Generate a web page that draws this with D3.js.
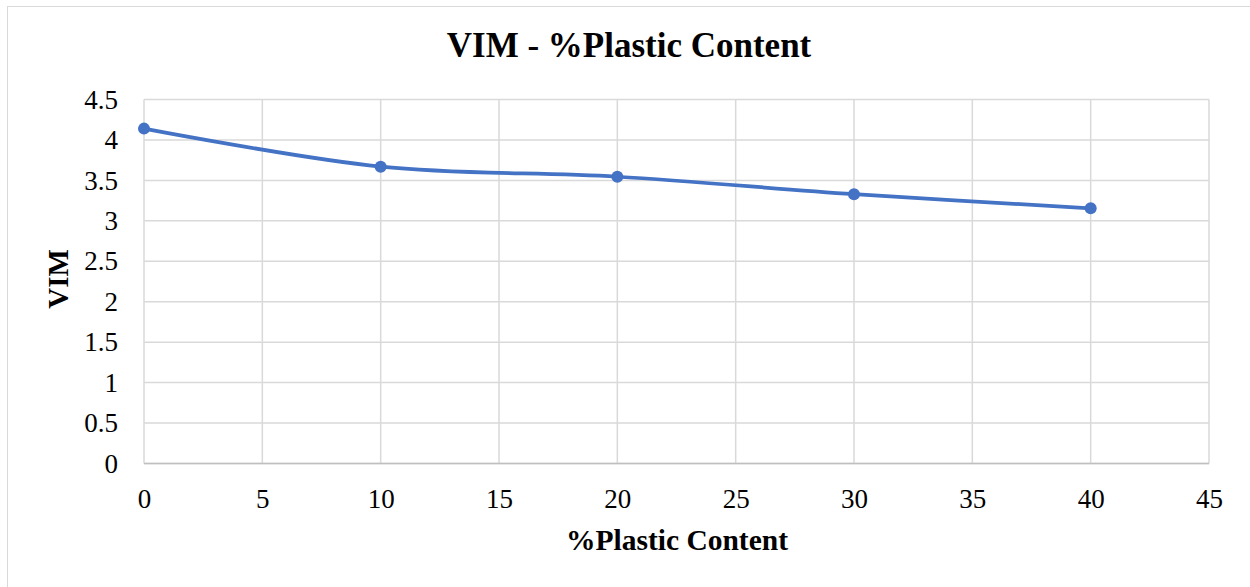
<!DOCTYPE html>
<html>
<head>
<meta charset="utf-8">
<script src="https://cdn.jsdelivr.net/npm/d3@7"></script>
<style>
  html, body { margin: 0; padding: 0; background: #fff; }
  svg { display: block; }
</style>
</head>
<body>
<svg id="chart" width="1250" height="587"></svg>
<script>
// VIM measured at each plastic content level
const plasticContent = [0, 10, 20, 30, 40];
const vimValues = [4.14, 3.67, 3.545, 3.33, 3.155];
const xTicks = [0, 5, 10, 15, 20, 25, 30, 35, 40, 45];
const yTicks = [0, 0.5, 1, 1.5, 2, 2.5, 3, 3.5, 4, 4.5];

const chartTitle = "VIM - %Plastic Content";
const xTitle = "%Plastic Content";
const yTitle = "VIM";

const svg = d3.select("#chart");
const serif = '"Liberation Serif", "Times New Roman", Tinos, serif';
const plot = { left: 144, right: 1209, top: 99.5, bottom: 463.5 };

// outer chart frame
svg.append("rect")
  .attr("x", 7.5).attr("y", 6.5)
  .attr("width", 1260).attr("height", 600)
  .attr("fill", "#fff").attr("stroke", "#d9d9d9").attr("stroke-width", 1);

const x = d3.scaleLinear().domain([0, 45]).range([plot.left, plot.right]);
const y = d3.scaleLinear().domain([0, 4.5]).range([plot.bottom, plot.top]);

// gridlines
svg.append("g")
  .selectAll("line")
  .data(xTicks)
  .join("line")
  .attr("x1", d => x(d)).attr("x2", d => x(d))
  .attr("y1", plot.top).attr("y2", plot.bottom)
  .attr("stroke", "#d9d9d9").attr("stroke-width", 1.5);

svg.append("g")
  .selectAll("line")
  .data(yTicks)
  .join("line")
  .attr("x1", plot.left).attr("x2", plot.right)
  .attr("y1", d => y(d)).attr("y2", d => y(d))
  .attr("stroke", "#d9d9d9").attr("stroke-width", 1.5);

// axes (labels only; the grid supplies the lines)
const xAxis = svg.append("g")
  .attr("transform", `translate(0,${plot.bottom})`)
  .call(d3.axisBottom(x).tickValues(xTicks).tickSize(0).tickPadding(25).tickFormat(d3.format("")));
xAxis.select(".domain").remove();
xAxis.selectAll("text")
  .style("font-family", serif).style("font-size", "27px").attr("fill", "#000");

const yAxis = svg.append("g")
  .attr("transform", `translate(${plot.left},0)`)
  .call(d3.axisLeft(y).tickValues(yTicks).tickSize(0).tickPadding(26).tickFormat(d3.format("")));
yAxis.select(".domain").remove();
yAxis.selectAll("text")
  .style("font-family", serif).style("font-size", "27px").attr("fill", "#000");

// bottom axis line drawn over grid
svg.append("line")
  .attr("x1", plot.left).attr("x2", plot.right)
  .attr("y1", plot.bottom).attr("y2", plot.bottom)
  .attr("stroke", "#bfbfbf").attr("stroke-width", 1.5);

const pts = plasticContent.map((p, i) => [p, vimValues[i]]);

// smoothed series line
svg.append("path")
  .datum(pts)
  .attr("fill", "none")
  .attr("stroke", "#4472C4")
  .attr("stroke-width", 3.75)
  .attr("stroke-linecap", "round")
  .attr("d", d3.line().x(d => x(d[0])).y(d => y(d[1])).curve(d3.curveCatmullRom.alpha(0.5)));

svg.append("g")
  .selectAll("circle")
  .data(pts)
  .join("circle")
  .attr("cx", d => x(d[0])).attr("cy", d => y(d[1]))
  .attr("r", 6)
  .attr("fill", "#4472C4");

// titles
svg.append("text")
  .attr("x", 629).attr("y", 57)
  .attr("text-anchor", "middle")
  .style("font-family", serif).style("font-weight", "bold").style("font-size", "35px")
  .text(chartTitle);

svg.append("text")
  .attr("x", 677).attr("y", 550)
  .attr("text-anchor", "middle")
  .style("font-family", serif).style("font-weight", "bold").style("font-size", "29.5px")
  .text(xTitle);

svg.append("text")
  .attr("transform", "translate(68,279) rotate(-90)")
  .attr("text-anchor", "middle")
  .style("font-family", serif).style("font-weight", "bold").style("font-size", "29px")
  .text(yTitle);
</script>
</body>
</html>
